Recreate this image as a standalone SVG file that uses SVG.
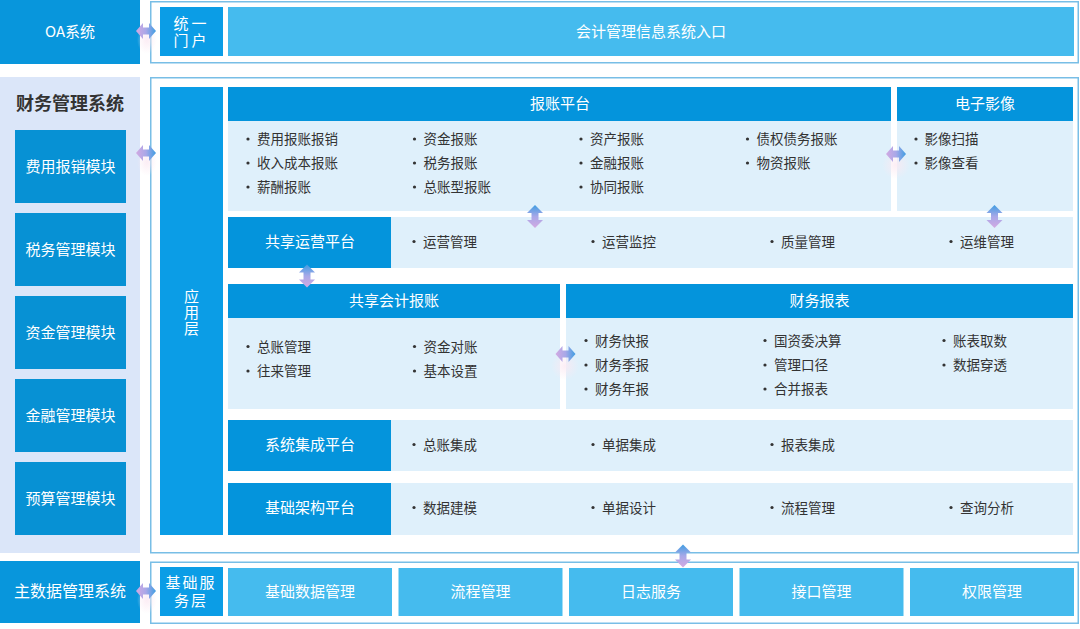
<svg xmlns="http://www.w3.org/2000/svg" width="1080" height="629" viewBox="0 0 1080 629">
<style>
text{font-family:"Noto Sans CJK SC","Noto Sans",sans-serif;transform:translateY(-1.5px);}
.frame{fill:#ffffff;stroke:#78bee6;stroke-width:1.5;}
.sys{fill:#0896dc;}
.mod{fill:#0791d4;}
.side{fill:#0b9de6;}
.hdr{fill:#0494dc;}
.bar{fill:#45bbee;}
.body{fill:#dff0fb;}
.panel{fill:#dbe6f9;}
.w15{fill:#ffffff;font-size:15px;text-anchor:middle;dominant-baseline:central;}
.w16{fill:#ffffff;font-size:16px;text-anchor:middle;dominant-baseline:central;}
.it{fill:#333333;font-size:13.5px;dominant-baseline:central;}
.dot{fill:#333333;}
.ttl{fill:#333333;font-size:18px;font-weight:bold;text-anchor:middle;dominant-baseline:central;}
</style>
<defs>
<linearGradient id="ag" x1="0" y1="0" x2="1" y2="0">
<stop offset="0" stop-color="#d3a9e2"/>
<stop offset="0.5" stop-color="#a8a8e8"/>
<stop offset="1" stop-color="#3f9de2"/>
</linearGradient>
<radialGradient id="glow" cx="0.5" cy="0.5" r="0.5">
<stop offset="0" stop-color="#fbe9f2" stop-opacity="0.8"/>
<stop offset="1" stop-color="#fbe9f2" stop-opacity="0"/>
</radialGradient>
<path id="arr" d="M-10,0 L-3,-8 L-3,-3.5 L3,-3.5 L3,-8 L10,0 L3,8 L3,3.5 L-3,3.5 L-3,8 Z" fill="url(#ag)"/>
</defs>
<rect x="0" y="0" width="1080" height="629" fill="#ffffff"/>

<!-- Top row -->
<g id="oa">
<rect class="sys" x="0" y="0" width="140" height="64"/>
<text class="w15" x="70" y="32">OA系统</text>
</g>
<g id="top-frame">
<rect class="frame" x="150.75" y="1.75" width="927.5" height="61"/>
</g>
<g id="portal">
<rect class="side" x="160" y="7" width="63" height="49"/>
<text class="w15" letter-spacing="3"><tspan x="191.5" y="23">统一</tspan><tspan x="191.5" y="40">门户</tspan></text>
</g>
<g id="entry">
<rect class="bar" x="228" y="7" width="846" height="49"/>
<text class="w15" x="651" y="31.5">会计管理信息系统入口</text>
</g>

<!-- Middle section -->
<g id="fin-sys">
<rect class="panel" x="0" y="77" width="140" height="476"/>
<text class="ttl" x="70" y="103">财务管理系统</text>
</g>
<g id="mod1"><rect class="mod" x="15" y="130" width="111" height="73"/><text class="w15" x="70.5" y="166.5">费用报销模块</text></g>
<g id="mod2"><rect class="mod" x="15" y="213" width="111" height="73"/><text class="w15" x="70.5" y="249.5">税务管理模块</text></g>
<g id="mod3"><rect class="mod" x="15" y="296" width="111" height="73"/><text class="w15" x="70.5" y="332.5">资金管理模块</text></g>
<g id="mod4"><rect class="mod" x="15" y="379" width="111" height="73"/><text class="w15" x="70.5" y="415.5">金融管理模块</text></g>
<g id="mod5"><rect class="mod" x="15" y="462" width="111" height="73"/><text class="w15" x="70.5" y="498.5">预算管理模块</text></g>

<g id="app-frame">
<rect class="frame" x="150.75" y="77.75" width="927.5" height="475"/>
</g>
<g id="app-layer">
<rect class="side" x="160" y="87" width="63" height="448"/>
<text x="191.5" y="312.5" writing-mode="vertical-rl" letter-spacing="1" style="fill:#ffffff;font-size:15px;text-anchor:middle;dominant-baseline:central;transform:none;">应用层</text>
</g>

<g id="baozhang">
<rect class="hdr" x="228" y="87" width="663" height="34"/>
<text class="w15" x="560" y="104">报账平台</text>
<rect class="body" x="228" y="121" width="663" height="90"/>
<circle class="dot" cx="248" cy="139" r="1.6"/><text class="it" x="257" y="139.5">费用报账报销</text>
<circle class="dot" cx="248" cy="163" r="1.6"/><text class="it" x="257" y="163.5">收入成本报账</text>
<circle class="dot" cx="248" cy="187" r="1.6"/><text class="it" x="257" y="187.5">薪酬报账</text>
<circle class="dot" cx="414.5" cy="139" r="1.6"/><text class="it" x="423.5" y="139.5">资金报账</text>
<circle class="dot" cx="414.5" cy="163" r="1.6"/><text class="it" x="423.5" y="163.5">税务报账</text>
<circle class="dot" cx="414.5" cy="187" r="1.6"/><text class="it" x="423.5" y="187.5">总账型报账</text>
<circle class="dot" cx="581" cy="139" r="1.6"/><text class="it" x="590" y="139.5">资产报账</text>
<circle class="dot" cx="581" cy="163" r="1.6"/><text class="it" x="590" y="163.5">金融报账</text>
<circle class="dot" cx="581" cy="187" r="1.6"/><text class="it" x="590" y="187.5">协同报账</text>
<circle class="dot" cx="747.5" cy="139" r="1.6"/><text class="it" x="756.5" y="139.5">债权债务报账</text>
<circle class="dot" cx="747.5" cy="163" r="1.6"/><text class="it" x="756.5" y="163.5">物资报账</text>
</g>

<g id="image">
<rect class="hdr" x="897" y="87" width="176" height="34"/>
<text class="w15" x="985" y="104">电子影像</text>
<rect class="body" x="897" y="121" width="176" height="90"/>
<circle class="dot" cx="916" cy="139" r="1.6"/><text class="it" x="924.5" y="139.5">影像扫描</text>
<circle class="dot" cx="916" cy="163" r="1.6"/><text class="it" x="924.5" y="163.5">影像查看</text>
</g>

<g id="ops">
<rect class="hdr" x="228" y="217" width="163" height="51"/>
<text class="w15" x="310" y="242">共享运营平台</text>
<rect class="body" x="391" y="217" width="682" height="51"/>
<circle class="dot" cx="414" cy="241.5" r="1.6"/><text class="it" x="423" y="242">运营管理</text>
<circle class="dot" cx="593" cy="241.5" r="1.6"/><text class="it" x="602" y="242">运营监控</text>
<circle class="dot" cx="772" cy="241.5" r="1.6"/><text class="it" x="781" y="242">质量管理</text>
<circle class="dot" cx="951" cy="241.5" r="1.6"/><text class="it" x="960" y="242">运维管理</text>
</g>

<g id="accounting">
<rect class="hdr" x="228" y="284" width="332" height="34"/>
<text class="w15" x="394" y="301">共享会计报账</text>
<rect class="body" x="228" y="318" width="332" height="91"/>
<circle class="dot" cx="248" cy="346.5" r="1.6"/><text class="it" x="257" y="347">总账管理</text>
<circle class="dot" cx="248" cy="371" r="1.6"/><text class="it" x="257" y="371.5">往来管理</text>
<circle class="dot" cx="414.5" cy="346.5" r="1.6"/><text class="it" x="423.5" y="347">资金对账</text>
<circle class="dot" cx="414.5" cy="371" r="1.6"/><text class="it" x="423.5" y="371.5">基本设置</text>
</g>

<g id="report">
<rect class="hdr" x="566" y="284" width="507" height="34"/>
<text class="w15" x="819.5" y="301">财务报表</text>
<rect class="body" x="566" y="318" width="507" height="91"/>
<circle class="dot" cx="586" cy="340.5" r="1.6"/><text class="it" x="595" y="341">财务快报</text>
<circle class="dot" cx="586" cy="365" r="1.6"/><text class="it" x="595" y="365.5">财务季报</text>
<circle class="dot" cx="586" cy="389" r="1.6"/><text class="it" x="595" y="389.5">财务年报</text>
<circle class="dot" cx="765" cy="340.5" r="1.6"/><text class="it" x="774" y="341">国资委决算</text>
<circle class="dot" cx="765" cy="365" r="1.6"/><text class="it" x="774" y="365.5">管理口径</text>
<circle class="dot" cx="765" cy="389" r="1.6"/><text class="it" x="774" y="389.5">合并报表</text>
<circle class="dot" cx="944" cy="340.5" r="1.6"/><text class="it" x="953" y="341">账表取数</text>
<circle class="dot" cx="944" cy="365" r="1.6"/><text class="it" x="953" y="365.5">数据穿透</text>
</g>

<g id="integration">
<rect class="hdr" x="228" y="420" width="163" height="51"/>
<text class="w15" x="310" y="445">系统集成平台</text>
<rect class="body" x="391" y="420" width="682" height="51"/>
<circle class="dot" cx="414" cy="444.5" r="1.6"/><text class="it" x="423" y="445">总账集成</text>
<circle class="dot" cx="593" cy="444.5" r="1.6"/><text class="it" x="602" y="445">单据集成</text>
<circle class="dot" cx="772" cy="444.5" r="1.6"/><text class="it" x="781" y="445">报表集成</text>
</g>

<g id="infra">
<rect class="hdr" x="228" y="483" width="163" height="52"/>
<text class="w15" x="310" y="508">基础架构平台</text>
<rect class="body" x="391" y="483" width="682" height="52"/>
<circle class="dot" cx="414" cy="507.5" r="1.6"/><text class="it" x="423" y="508">数据建模</text>
<circle class="dot" cx="593" cy="507.5" r="1.6"/><text class="it" x="602" y="508">单据设计</text>
<circle class="dot" cx="772" cy="507.5" r="1.6"/><text class="it" x="781" y="508">流程管理</text>
<circle class="dot" cx="951" cy="507.5" r="1.6"/><text class="it" x="960" y="508">查询分析</text>
</g>

<!-- Bottom section -->
<g id="mdm">
<rect class="sys" x="0" y="561" width="140" height="62"/>
<text class="w16" x="70" y="591.5">主数据管理系统</text>
</g>
<g id="base-frame">
<rect class="frame" x="150.75" y="562.25" width="927.5" height="61"/>
</g>
<g id="base-layer">
<rect class="side" x="160" y="567" width="63" height="49"/>
<text class="w15" letter-spacing="2"><tspan x="191" y="582.5">基础服</tspan><tspan x="191" y="600.5">务层</tspan></text>
</g>
<g id="b1"><rect class="bar" x="228" y="568" width="164" height="48"/><text class="w15" x="310" y="592">基础数据管理</text></g>
<g id="b2"><rect class="bar" x="398.5" y="568" width="164" height="48"/><text class="w15" x="480.5" y="592">流程管理</text></g>
<g id="b3"><rect class="bar" x="569" y="568" width="164" height="48"/><text class="w15" x="651" y="592">日志服务</text></g>
<g id="b4"><rect class="bar" x="739.5" y="568" width="164" height="48"/><text class="w15" x="821.5" y="592">接口管理</text></g>
<g id="b5"><rect class="bar" x="910" y="568" width="164" height="48"/><text class="w15" x="992" y="592">权限管理</text></g>

<!-- Connectors -->
<g id="connectors">
<ellipse cx="147" cy="40" rx="10" ry="14" fill="url(#glow)"/>
<ellipse cx="147" cy="162" rx="10" ry="14" fill="url(#glow)"/>
<ellipse cx="147" cy="600" rx="10" ry="14" fill="url(#glow)"/>
<ellipse cx="896" cy="165" rx="14" ry="14" fill="url(#glow)"/>
<ellipse cx="565" cy="366" rx="14" ry="14" fill="url(#glow)"/>
<use href="#arr" transform="translate(146,31)"/>
<use href="#arr" transform="translate(146,153)"/>
<use href="#arr" transform="translate(146,591)"/>
<use href="#arr" transform="translate(896,154)"/>
<use href="#arr" transform="translate(565.5,354)"/>
<use href="#arr" transform="translate(535,216.5) rotate(-90) scale(1.15,1)"/>
<use href="#arr" transform="translate(994.5,216.5) rotate(-90) scale(1.15,1)"/>
<use href="#arr" transform="translate(307,276) rotate(-90) scale(1.15,1)"/>
<use href="#arr" transform="translate(683,556) rotate(-90) scale(1.15,1)"/>
</g>
</svg>
